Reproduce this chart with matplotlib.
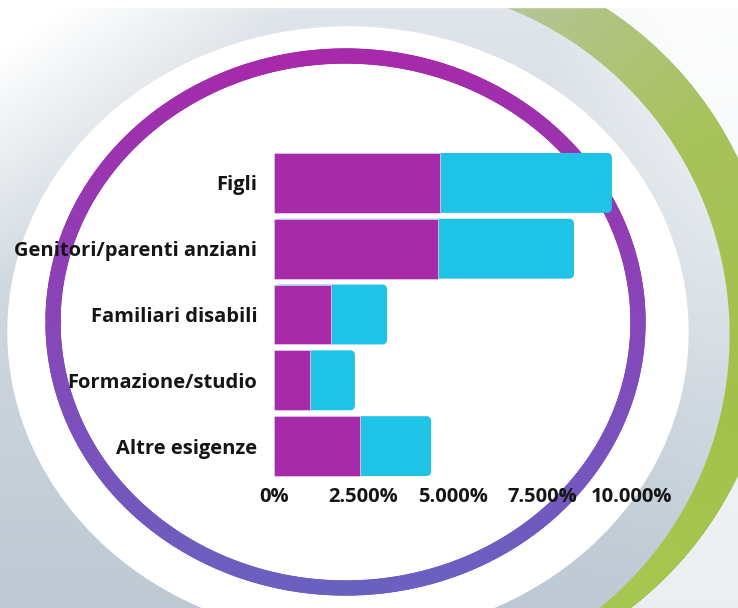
import numpy as np
import matplotlib.pyplot as plt
from matplotlib.collections import LineCollection
from matplotlib.patches import Ellipse, Rectangle, FancyBboxPatch
from matplotlib.colors import LinearSegmentedColormap

# Dati (percentuali)
categorie = ['Figli', 'Genitori/parenti anziani', 'Familiari disabili',
             'Formazione/studio', 'Altre esigenze']
serie_a = [4.64, 4.58, 1.59, 1.00, 2.40]   # viola
serie_b = [4.80, 3.80, 1.57, 1.26, 1.99]   # azzurro
tick_val = [0, 2.5, 5, 7.5, 10]
tick_lab = ['0%', '2.500%', '5.000%', '7.500%', '10.000%']

W, H = 738, 608
fig = plt.figure(figsize=(W / 100, H / 100), dpi=100)

# --- sfondo decorativo (coordinate in pixel) ---
bg = fig.add_axes([0, 0, 1, 1], zorder=0)
bg.set_xlim(0, W)
bg.set_ylim(H, 0)
bg.axis('off')

yy, xx = np.mgrid[0:H, 0:W] + 0.5

# bordo esterno / interno dell'arco verde
d_out = np.hypot(xx - 406, yy - 317)
d_in = np.hypot(xx - 378, yy - 335)

t = 0.45 + 0.5 * yy / H - 0.6 * np.clip(1 - (xx + yy) / 300, 0, 1)
t -= 0.35 * np.clip((xx - 550) / 150, 0, 1) * (1 - yy / H)
t = np.where((d_out > 368) & (xx > 500), t * 0.3, t)
t = np.clip(t, 0, 1)
grigio = np.array([186, 198, 209]) / 255
img = (1 - t[..., None]) * 1.0 + t[..., None] * grigio
bg.imshow(img, extent=(0, W, H, 0), aspect='auto', zorder=0, interpolation='bilinear')

# arco verde (sfumato lungo l'angolo)
cg = LinearSegmentedColormap.from_list('verde', ['#b9c6a6', '#a8c25c', '#a3c14a', '#a6c852', '#bfd97a'])
ang = np.degrees(np.arctan2(yy - 330, xx - 390))
u = np.clip((ang + 78) / 178, 0, 1)
alfa = np.clip(368 - d_out + 0.5, 0, 1) * np.clip(d_in - 351.6 + 0.5, 0, 1) * (xx > 420)
verde = cg(u)
verde[..., 3] = alfa
bg.imshow(verde, extent=(0, W, H, 0), aspect='auto', zorder=2, interpolation='bilinear')
bg.add_patch(Rectangle((0, 0), W, 7, color='white', zorder=2.5))

# ellisse bianca
bg.add_patch(Ellipse((348, 332), 680, 610, color='white', zorder=3))

# anello viola/blu
cr = LinearSegmentedColormap.from_list('anello', ['#a62aaa', '#8746b9', '#6a60c0'])
th = np.linspace(0, 2 * np.pi, 600)
rx = 345.5 + 292.5 * np.cos(th)
ry = 322 + 266 * np.sin(th)
pts = np.column_stack([rx, ry]).reshape(-1, 1, 2)
segs = np.concatenate([pts[:-1], pts[1:]], axis=1)
ymid = (segs[:, 0, 1] + segs[:, 1, 1]) / 2
lc = LineCollection(segs, colors=cr((ymid - 56) / (588 - 56)), linewidths=11,
                    capstyle='round', zorder=4)
bg.add_collection(lc)

# --- grafico a barre ---
ax = fig.add_axes([274 / W, 1 - 479 / H, 358 / W, 329 / H], zorder=1)
ax.patch.set_alpha(0)
y = np.arange(len(categorie))
totale = np.array(serie_a) + np.array(serie_b)

bars_b = ax.barh(y, totale, height=0.91, color='#1fc3e6')
# angoli arrotondati a destra
sx = 10 / 358
sy = 5 / 329
for b in bars_b:
    b.set_visible(False)
    ax.add_patch(FancyBboxPatch((b.get_x(), b.get_y()), b.get_width(), b.get_height(),
                                boxstyle='round,pad=0,rounding_size=%f' % (5 * sx),
                                mutation_aspect=sy / sx, facecolor='#1fc3e6',
                                edgecolor='none', zorder=2))
ax.barh(y, serie_a, height=0.91, color='#a72aa9', edgecolor='#e9c6ea',
        linewidth=0.6, zorder=3)

ax.set_xlim(0, 10)
ax.set_ylim(4.5, -0.5)
ax.set_yticks(y)
ax.set_yticklabels(categorie)
ax.set_xticks(tick_val)
ax.set_xticklabels(tick_lab)
for s in ax.spines.values():
    s.set_visible(False)
ax.tick_params(axis='y', length=0, pad=12)
ax.tick_params(axis='x', length=0, pad=6)
for lab in ax.get_yticklabels() + ax.get_xticklabels():
    lab.set_fontfamily('Open Sans')
    lab.set_fontweight('bold')
    lab.set_fontsize(14.5)
    lab.set_color('#151515')

fig.savefig('out.png', dpi=100)
